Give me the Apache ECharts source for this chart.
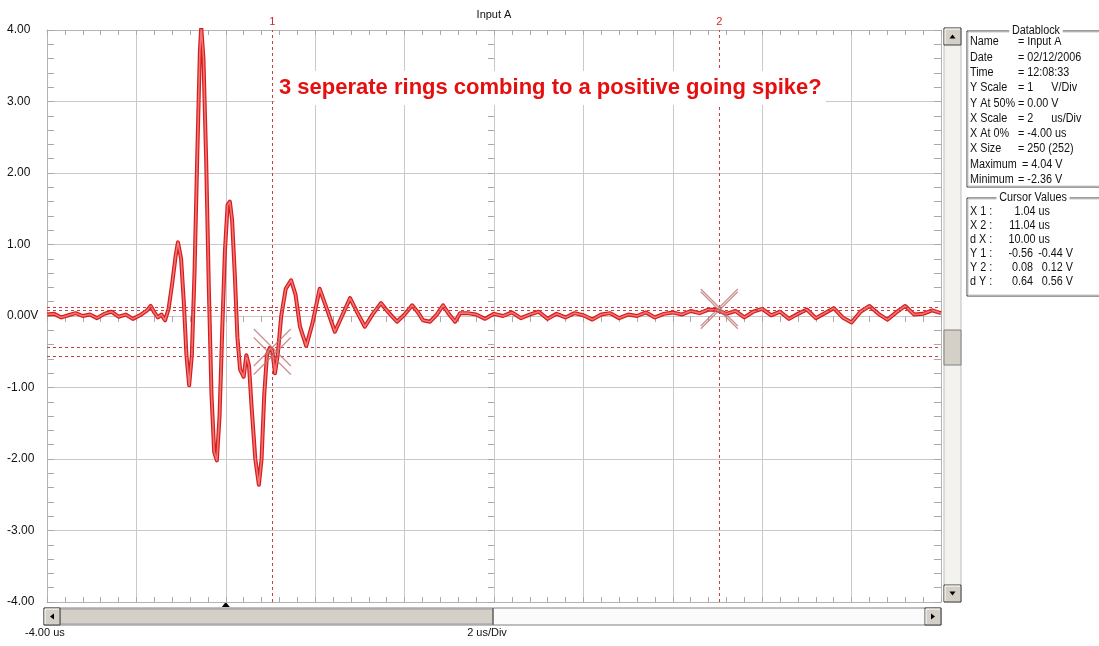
<!DOCTYPE html>
<html>
<head>
<meta charset="utf-8">
<script src="https://cdn.jsdelivr.net/npm/echarts@6/dist/echarts.min.js"></script>
<style>
  html, body { margin: 0; padding: 0; background: #ffffff; }
  #scope { width: 1099px; height: 646px; }
</style>
</head>
<body>
<div id="scope"></div>
<script>
// Captured trace, Input A (time in microseconds, amplitude in volts)
const timeUs = [
  -4.00, -3.84, -3.68, -3.52, -3.36, -3.20, -3.04, -2.88, -2.72, -2.56,
  -2.40, -2.24, -2.08, -1.92, -1.76, -1.68, -1.60, -1.52, -1.44, -1.36,
  -1.28, -1.20, -1.12, -1.07, -1.00, -0.94, -0.88, -0.82, -0.76, -0.70,
  -0.64, -0.58, -0.55, -0.50, -0.44, -0.38, -0.32, -0.26, -0.20, -0.14,
  -0.08, -0.02, 0.04, 0.09, 0.14, 0.20, 0.26, 0.32, 0.40, 0.46,
  0.52, 0.58, 0.66, 0.74, 0.80, 0.86, 0.92, 0.98, 1.04, 1.10,
  1.16, 1.24, 1.34, 1.46, 1.56, 1.66, 1.80, 1.94, 2.10, 2.26,
  2.44, 2.60, 2.78, 2.94, 3.11, 3.28, 3.47, 3.64, 3.83, 4.00,
  4.17, 4.30, 4.41, 4.57, 4.72, 4.86, 5.00, 5.13, 5.24, 5.40,
  5.60, 5.80, 6.00, 6.20, 6.40, 6.60, 6.80, 7.00, 7.20, 7.40,
  7.60, 7.80, 8.00, 8.20, 8.40, 8.60, 8.80, 9.00, 9.20, 9.40,
  9.60, 9.80, 10.00, 10.20, 10.40, 10.60, 10.80, 11.00, 11.20, 11.40,
  11.60, 11.80, 12.00, 12.20, 12.40, 12.60, 12.80, 13.00, 13.20, 13.40,
  13.60, 13.80, 14.00, 14.20, 14.40, 14.60, 14.80, 15.00, 15.20, 15.40,
  15.60, 15.80, 16.00
];
const voltsV = [
  0.02, 0.03, -0.02, 0.01, 0.04, 0.00, 0.02, -0.03, 0.03, 0.06,
  -0.01, 0.02, -0.04, 0.01, 0.08, 0.14, 0.05, -0.02, 0.02, -0.06,
  0.10, 0.45, 0.85, 1.03, 0.80, 0.20, -0.55, -0.97, -0.55, 0.60,
  2.20, 3.70, 4.04, 3.60, 2.20, 0.40, -1.10, -1.90, -2.02, -1.40,
  -0.20, 0.90, 1.55, 1.60, 1.35, 0.60, -0.30, -0.75, -0.85, -0.55,
  -0.70, -1.30, -2.00, -2.36, -2.00, -1.10, -0.55, -0.45, -0.48, -0.80,
  -0.55, 0.00, 0.38, 0.50, 0.30, -0.15, -0.42, -0.10, 0.38, 0.10,
  -0.22, 0.00, 0.25, 0.05, -0.15, 0.02, 0.18, 0.05, -0.08, 0.02,
  0.15, 0.05, -0.06, -0.08, 0.02, 0.15, 0.02, -0.08, 0.04, 0.04,
  0.02, -0.04, 0.03, 0.00, 0.05, -0.03, 0.02, 0.06, -0.04, 0.03,
  -0.02, 0.04, 0.01, -0.05, 0.02, 0.04, -0.03, 0.02, 0.00, 0.05,
  -0.02, 0.03, 0.05, 0.02, 0.07, 0.04, 0.09, 0.08, 0.03, 0.07,
  -0.02, 0.06, 0.10, 0.01, 0.06, -0.04, 0.03, 0.09, -0.03, 0.04,
  0.11, -0.02, -0.09, 0.06, 0.14, 0.03, -0.05, 0.05, 0.14, 0.02,
  0.03, 0.08, 0.04
];

// Screen scales and ticks
const xRangeUs = [-4, 16];
const xStepUs = 2;
const yRangeV = [-4, 4];
const yStepV = 1;
const yTickValues = [-4, -3, -2, -1, 0, 1, 2, 3, 4];
const yTickLabels = ['-4.00', '-3.00', '-2.00', '-1.00', '0.00V', '1.00', '2.00', '3.00', '4.00'];

// Measurement cursors
const cursorNames = ['1', '2'];
const cursorX = [1.04, 11.04];
const cursorY1 = [-0.56, -0.44];
const cursorY2 = [0.08, 0.12];

const FONT = '"Liberation Sans", Arial, sans-serif';
const traceData = timeUs.map((t, i) => [t, voltsV[i]]);

const gridLine = '#c9c9c9';
const tickCol = '#a9a9a9';

function baseX(extra) {
  return Object.assign({
    type: 'value', min: xRangeUs[0], max: xRangeUs[1], interval: xStepUs,
    axisLabel: { show: false },
    axisLine: { show: true, onZero: false, lineStyle: { color: '#b4b4b4' } },
    axisTick: { show: true, inside: true, length: 5, lineStyle: { color: tickCol } },
    minorTick: { show: true, splitNumber: 5, length: 5, lineStyle: { color: tickCol } },
    splitLine: { show: false }
  }, extra);
}
function baseY(extra) {
  return Object.assign({
    type: 'value', min: yRangeV[0], max: yRangeV[1], interval: yStepV,
    axisLabel: { show: false },
    axisLine: { show: true, onZero: false, lineStyle: { color: '#b4b4b4' } },
    axisTick: { show: true, inside: true, length: 7, lineStyle: { color: tickCol } },
    minorTick: { show: true, splitNumber: 5, length: 7, lineStyle: { color: tickCol } },
    splitLine: { show: false }
  }, extra);
}

// ---- window chrome: scroll bars, datablock panel ----
function bevelButton(x, y, w, h, arrow) {
  const els = [
    { type: 'rect', shape: { x: x, y: y, width: w, height: h },
      style: { fill: '#d4d0c8', stroke: '#404040', lineWidth: 1 } },
    { type: 'polyline', shape: { points: [[x + 1, y + h - 1], [x + 1, y + 1], [x + w - 1, y + 1]] },
      style: { stroke: '#ffffff', lineWidth: 1, fill: null } }
  ];
  const cx = x + w / 2, cy = y + h / 2;
  let pts;
  if (arrow === 'up') pts = [[cx - 3, cy + 2], [cx + 3, cy + 2], [cx, cy - 2]];
  if (arrow === 'down') pts = [[cx - 3, cy - 2], [cx + 3, cy - 2], [cx, cy + 2]];
  if (arrow === 'left') pts = [[cx + 2, cy - 3], [cx + 2, cy + 3], [cx - 2, cy]];
  if (arrow === 'right') pts = [[cx - 2, cy - 3], [cx - 2, cy + 3], [cx + 2, cy]];
  els.push({ type: 'polygon', shape: { points: pts }, style: { fill: '#000' } });
  return els;
}

const chrome = [];
// vertical scroll bar
chrome.push({ type: 'rect', shape: { x: 944, y: 28, width: 17, height: 574 },
  style: { fill: '#f3f2ee', stroke: '#bdbdbd', lineWidth: 1 } });
chrome.push(...bevelButton(944, 28, 17, 17, 'up'));
chrome.push(...bevelButton(944, 585, 17, 17, 'down'));
chrome.push({ type: 'rect', shape: { x: 944, y: 330, width: 17, height: 35 },
  style: { fill: '#d4d0c8', stroke: '#808080', lineWidth: 1 } });
// horizontal scroll bar
chrome.push({ type: 'rect', shape: { x: 44, y: 608, width: 897, height: 17 },
  style: { fill: '#fbfbfb', stroke: '#808080', lineWidth: 1 } });
chrome.push({ type: 'rect', shape: { x: 60, y: 609, width: 433, height: 15 },
  style: { fill: '#d4d0c8', stroke: '#9a9a9a', lineWidth: 1 } });
chrome.push({ type: 'line', shape: { x1: 493, y1: 608, x2: 493, y2: 625 },
  style: { stroke: '#404040', lineWidth: 1 } });
chrome.push(...bevelButton(44, 608, 16, 17, 'left'));
chrome.push(...bevelButton(925, 608, 16, 17, 'right'));

// bottom captions
chrome.push({ type: 'text', x: 25, y: 633,
  style: { text: '-4.00 us', font: '11px ' + FONT, fill: '#111', textVerticalAlign: 'middle' } });
chrome.push({ type: 'text', x: 487, y: 633,
  style: { text: '2 us/Div', font: '11px ' + FONT, fill: '#111', textAlign: 'center', textVerticalAlign: 'middle' } });
// title
chrome.push({ type: 'text', x: 494, y: 15,
  style: { text: 'Input A', font: '11px ' + FONT, fill: '#111', textAlign: 'center', textVerticalAlign: 'middle' } });

// annotation
chrome.push({ type: 'text', x: 275, y: 88, z: 50,
  style: { text: '3 seperate rings combing to a positive going spike?', font: 'bold 22px ' + FONT,
    fill: '#e60f0f', textVerticalAlign: 'middle', backgroundColor: '#ffffff', padding: [6, 4] } });

// Datablock panel
const dbRows = [
  ['Name', '= Input A', 1018],
  ['Date', '= 02/12/2006', 1018],
  ['Time', '= 12:08:33', 1018],
  ['Y Scale', '= 1      V/Div', 1018],
  ['Y At 50%', '= 0.00 V', 1018],
  ['X Scale', '= 2      us/Div', 1018],
  ['X At 0%', '= -4.00 us', 1018],
  ['X Size', '= 250 (252)', 1018],
  ['Maximum', '= 4.04 V', 1022],
  ['Minimum', '= -2.36 V', 1018]
];
const PANEL_FONT = '12px ' + FONT;
// narrow panel lettering
function panelText(x, y, text, align) {
  return { type: 'text', x: x, y: y, scaleX: 0.9,
    style: { text: text, font: PANEL_FONT, fill: '#111', textAlign: align || 'left', textVerticalAlign: 'middle' } };
}
function framedBox(x, y, w, h, title, tx) {
  return [
    { type: 'rect', shape: { x: x, y: y, width: w, height: h },
      style: { fill: null, stroke: '#3a3a3a', lineWidth: 1 } },
    { type: 'rect', shape: { x: x + 1, y: y + 1, width: w, height: h - 2 },
      style: { fill: null, stroke: '#c8c8c8', lineWidth: 1 } },
    { type: 'text', x: tx, y: y, z: 5, scaleX: 0.9,
      style: { text: title, font: PANEL_FONT, fill: '#111', textAlign: 'center', textVerticalAlign: 'middle',
        backgroundColor: '#fff', padding: [0, 3] } }
  ];
}
chrome.push(...framedBox(967, 31, 140, 156, 'Datablock', 1036));
dbRows.forEach((r, i) => {
  const y = 42 + i * 15.3;
  chrome.push(panelText(970, y, r[0]));
  chrome.push(panelText(r[2], y, r[1]));
});
chrome.push(...framedBox(967, 198, 140, 98, 'Cursor Values', 1033));
const cvRows = [
  ['X 1 :', '1.04 us', null],
  ['X 2 :', '11.04 us', null],
  ['d X :', '10.00 us', null],
  ['Y 1 :', '-0.56', '-0.44 V'],
  ['Y 2 :', '0.08', '0.12 V'],
  ['d Y :', '0.64', '0.56 V']
];
cvRows.forEach((r, i) => {
  const y = 212 + i * 14;
  chrome.push(panelText(970, y, r[0]));
  if (r[2] === null) {
    chrome.push(panelText(1050, y, r[1], 'right'));
  } else {
    chrome.push(panelText(1033, y, r[1], 'right'));
    chrome.push(panelText(1073, y, r[2], 'right'));
  }
});

const chart = echarts.init(document.getElementById('scope'), null, { renderer: 'canvas' });

const cursorLines = [];
cursorX.forEach((x, i) => cursorLines.push({ xAxis: x, label: { show: true, formatter: cursorNames[i] } }));
cursorY1.concat(cursorY2).forEach(v => cursorLines.push({ yAxis: v, label: { show: false } }));

const crossPoints = [
  [cursorX[0], cursorY1[0]], [cursorX[0], cursorY1[1]],
  [cursorX[1], cursorY2[0]], [cursorX[1], cursorY2[1]]
];

const option = {
  animation: false,
  backgroundColor: '#ffffff',
  grid: { left: 47, right: 158, top: 30, bottom: 44, show: false },
  xAxis: [
    baseX({ position: 'bottom', splitLine: { show: true, lineStyle: { color: gridLine, width: 1 } } }),
    baseX({ position: 'top' }),
    baseX({ position: 'bottom', offset: -286, axisLine: { show: false, onZero: false },
      axisTick: { show: true, inside: false, length: 6, lineStyle: { color: tickCol } },
      minorTick: { show: true, splitNumber: 5, length: 6, lineStyle: { color: tickCol } } })
  ],
  yAxis: [
    baseY({ position: 'left',
      splitLine: { show: true, lineStyle: { color: gridLine, width: 1 } },
      axisLabel: { show: true, align: 'left', margin: 40, fontFamily: FONT, fontSize: 12, color: '#111',
        formatter: v => { const k = yTickValues.indexOf(v); return k >= 0 ? yTickLabels[k] : ''; } } }),
    baseY({ position: 'right' }),
    baseY({ position: 'left', offset: -447, axisLine: { show: false, onZero: false },
      axisTick: { show: true, inside: false, length: 6, lineStyle: { color: tickCol } },
      minorTick: { show: true, splitNumber: 5, length: 6, lineStyle: { color: tickCol } } })
  ],
  series: [
    {
      name: 'trace edge', type: 'line', data: traceData, showSymbol: false, symbol: 'none',
      lineStyle: { color: '#d61c1c', width: 4.0, join: 'round' }, z: 3, silent: true
    },
    {
      name: 'trace body', type: 'line', data: traceData, showSymbol: false, symbol: 'none',
      lineStyle: { color: '#f27676', width: 1.6, join: 'round' }, z: 4, silent: true
    },
    {
      name: 'cursors', type: 'line', data: [], silent: true, z: 6,
      markLine: {
        silent: true, symbol: ['none', 'none'], animation: false,
        lineStyle: { color: '#cf3c3c', type: [3, 3], width: 1 },
        label: { position: 'end', color: '#d02a2a', fontSize: 11, fontFamily: FONT, distance: 3 },
        data: cursorLines
      }
    },
    {
      name: 'cursor crosses', type: 'scatter', data: crossPoints, silent: true, z: 7,
      symbol: 'path://M0,0L10,10M10,0L0,10', symbolSize: 37,
      itemStyle: { color: 'rgba(0,0,0,0)', borderColor: '#c07575', borderWidth: 1.3 }
    }
  ],
  graphic: chrome
};
chart.setOption(option);

// trigger marker under the time origin
const trig = chart.convertToPixel({ xAxisIndex: 0 }, 0);
chart.setOption({
  graphic: chrome.concat([{ type: 'polygon', shape: { points: [[trig - 4, 607], [trig + 4, 607], [trig, 602]] },
    style: { fill: '#000' } }])
});
</script>
</body>
</html>
